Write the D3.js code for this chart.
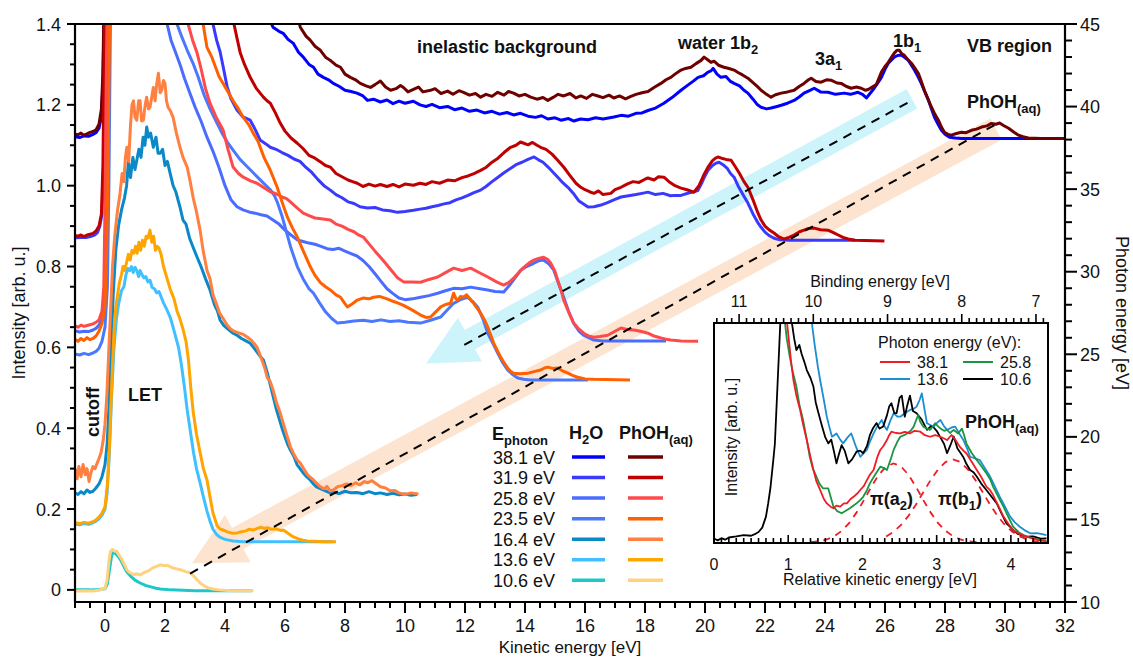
<!DOCTYPE html>
<html><head><meta charset="utf-8">
<script src="https://cdn.jsdelivr.net/npm/d3@7"></script>
<style>body{margin:0;background:#fff}svg{display:block;font-family:'Liberation Sans',Arial,sans-serif}</style>
</head><body><svg id="c" width="1133" height="657"></svg>
<script>
// ---------- DATA (kinetic energy [eV], intensity [arb. u.]) ----------
const photonLabels = ['38.1 eV','31.9 eV','25.8 eV','23.5 eV','16.4 eV','13.6 eV','10.6 eV'];
const h2oColors  = ['#0000ff','#3a3aff','#4a6cff','#4a78ff','#0a88c8','#40c0ff','#1ec8c8'];
const phohColors = ['#6e0000','#c00000','#ff4a4a','#ff6000','#ff8040','#ffa500','#ffd27f'];

const h2o_381 = [[-1.00,1.121],[-0.85,1.119],[-0.70,1.123],[-0.55,1.122],[-0.40,1.127],[-0.30,1.131],[-0.20,1.142],[-0.12,1.17],[-0.07,1.25],[-0.03,1.42],[0.05,2.2],[4.8,1.6],[5.3,1.44],[5.6,1.392],[5.8,1.382],[5.94,1.377],[6.1,1.362],[6.28,1.352],[6.45,1.33],[6.61,1.318],[6.8,1.30],[6.95,1.293],[7.1,1.276],[7.28,1.268],[7.45,1.262],[7.61,1.253],[7.8,1.246],[8.0,1.236],[8.2,1.233],[8.4,1.229],[8.6,1.222],[8.75,1.211],[8.95,1.214],[9.18,1.207],[9.4,1.212],[9.6,1.203],[9.8,1.209],[10.0,1.204],[10.28,1.209],[10.5,1.2],[10.7,1.196],[10.9,1.201],[11.15,1.193],[11.42,1.196],[11.65,1.188],[11.9,1.192],[12.15,1.184],[12.4,1.187],[12.65,1.18],[12.9,1.184],[13.15,1.177],[13.4,1.181],[13.62,1.175],[13.85,1.179],[14.1,1.172],[14.35,1.169],[14.55,1.173],[14.76,1.165],[15.0,1.168],[15.2,1.162],[15.45,1.166],[15.63,1.16],[15.85,1.165],[16.1,1.163],[16.35,1.168],[16.6,1.165],[16.96,1.17],[17.2,1.174],[17.45,1.172],[17.7,1.179],[17.9,1.18],[18.1,1.186],[18.35,1.192],[18.63,1.204],[18.9,1.218],[19.2,1.236],[19.45,1.25],[19.6,1.258],[19.77,1.268],[19.95,1.272],[20.1,1.281],[20.2,1.284],[20.27,1.29],[20.4,1.276],[20.53,1.268],[20.7,1.27],[20.85,1.258],[20.97,1.253],[21.15,1.247],[21.3,1.236],[21.43,1.229],[21.6,1.214],[21.75,1.2],[21.87,1.194],[22.05,1.19],[22.2,1.192],[22.4,1.196],[22.54,1.199],[22.75,1.204],[22.97,1.211],[23.15,1.22],[23.3,1.229],[23.5,1.236],[23.64,1.241],[23.85,1.232],[24.1,1.231],[24.35,1.226],[24.64,1.229],[24.85,1.226],[25.1,1.231],[25.25,1.226],[25.38,1.217],[25.5,1.228],[25.64,1.241],[25.76,1.254],[25.88,1.268],[26.0,1.288],[26.11,1.303],[26.2,1.31],[26.31,1.318],[26.42,1.322],[26.54,1.323],[26.66,1.317],[26.78,1.31],[26.88,1.298],[26.98,1.286],[27.1,1.27],[27.21,1.253],[27.33,1.232],[27.45,1.211],[27.55,1.19],[27.65,1.169],[27.77,1.152],[27.88,1.137],[28.0,1.127],[28.15,1.12],[28.35,1.118],[28.55,1.117],[32,1.117]];
const phoh_381 = [[-1.00,1.127],[-0.9,1.126],[-0.8,1.13],[-0.7,1.125],[-0.6,1.128],[-0.5,1.132],[-0.4,1.134],[-0.3,1.138],[-0.2,1.152],[-0.12,1.19],[-0.07,1.28],[-0.04,1.42],[0.02,2.2],[5.8,1.6],[6.3,1.45],[6.51,1.392],[6.7,1.37],[6.84,1.36],[7.0,1.345],[7.18,1.335],[7.35,1.318],[7.51,1.31],[7.7,1.298],[7.85,1.293],[8.0,1.276],[8.18,1.268],[8.35,1.262],[8.51,1.253],[8.7,1.247],[8.85,1.243],[9.0,1.25],[9.18,1.259],[9.35,1.244],[9.52,1.236],[9.7,1.24],[9.85,1.248],[9.95,1.243],[10.1,1.232],[10.28,1.238],[10.45,1.244],[10.6,1.232],[10.85,1.236],[11.0,1.24],[11.2,1.228],[11.42,1.234],[11.6,1.226],[11.8,1.235],[11.95,1.231],[12.15,1.224],[12.35,1.228],[12.52,1.219],[12.7,1.226],[12.9,1.221],[13.09,1.231],[13.3,1.224],[13.45,1.233],[13.62,1.229],[13.8,1.222],[14.0,1.226],[14.19,1.219],[14.4,1.214],[14.6,1.218],[14.76,1.211],[14.95,1.219],[15.1,1.226],[15.29,1.222],[15.5,1.228],[15.7,1.217],[15.86,1.222],[16.05,1.216],[16.25,1.226],[16.43,1.222],[16.6,1.218],[16.8,1.224],[16.96,1.217],[17.15,1.222],[17.35,1.215],[17.53,1.221],[17.7,1.226],[17.9,1.23],[18.1,1.233],[18.3,1.243],[18.53,1.253],[18.7,1.262],[18.86,1.268],[19.0,1.276],[19.2,1.286],[19.35,1.29],[19.53,1.293],[19.7,1.302],[19.87,1.31],[19.97,1.318],[20.1,1.311],[20.2,1.305],[20.3,1.308],[20.45,1.298],[20.63,1.293],[20.8,1.29],[20.97,1.286],[21.1,1.28],[21.25,1.274],[21.43,1.266],[21.6,1.255],[21.75,1.245],[21.87,1.236],[22.05,1.226],[22.2,1.219],[22.35,1.225],[22.54,1.229],[22.75,1.232],[22.97,1.236],[23.15,1.246],[23.3,1.253],[23.45,1.262],[23.54,1.266],[23.7,1.258],[23.87,1.256],[24.05,1.262],[24.2,1.261],[24.4,1.254],[24.54,1.253],[24.7,1.246],[24.87,1.241],[25.05,1.244],[25.21,1.241],[25.35,1.236],[25.44,1.238],[25.6,1.245],[25.71,1.25],[25.8,1.266],[25.88,1.281],[26.0,1.295],[26.11,1.305],[26.22,1.318],[26.31,1.328],[26.4,1.335],[26.48,1.335],[26.56,1.326],[26.64,1.323],[26.76,1.312],[26.88,1.303],[27.0,1.29],[27.11,1.278],[27.21,1.258],[27.31,1.236],[27.43,1.215],[27.55,1.194],[27.66,1.177],[27.78,1.162],[27.88,1.145],[27.98,1.132],[28.1,1.127],[28.21,1.125],[28.38,1.129],[28.55,1.132],[28.7,1.131],[28.88,1.137],[29.05,1.14],[29.22,1.145],[29.4,1.148],[29.55,1.154],[29.7,1.152],[29.82,1.155],[29.95,1.149],[30.12,1.142],[30.3,1.132],[30.45,1.125],[30.6,1.121],[30.78,1.118],[31.2,1.117],[32,1.117]];
const h2o_319 = [[-1,0.871],[-0.8,0.872],[-0.6,0.872],[-0.45,0.875],[-0.35,0.878],[-0.25,0.884],[-0.17,0.9],[-0.1,0.93],[-0.05,1.05],[0.0,1.3],[0.05,1.6],[0.2,2.2],[3.2,1.6],[3.45,1.46],[3.6,1.40],[3.72,1.36],[3.84,1.33],[3.95,1.29],[4.07,1.245],[4.2,1.215],[4.4,1.187],[4.6,1.17],[4.84,1.162],[5.0,1.14],[5.17,1.113],[5.35,1.104],[5.51,1.095],[5.7,1.09],[5.9,1.082],[6.1,1.075],[6.3,1.066],[6.5,1.06],[6.7,1.045],[6.9,1.032],[7.1,1.015],[7.3,1.0],[7.51,0.989],[7.7,0.978],[7.9,0.97],[8.1,0.96],[8.3,0.956],[8.5,0.948],[8.75,0.945],[9.0,0.946],[9.25,0.94],[9.5,0.938],[9.75,0.934],[10.0,0.936],[10.28,0.939],[10.5,0.942],[10.7,0.944],[10.9,0.948],[11.1,0.951],[11.3,0.955],[11.5,0.958],[11.7,0.965],[11.9,0.97],[12.1,0.976],[12.3,0.983],[12.52,0.989],[12.7,0.998],[12.9,1.01],[13.1,1.021],[13.3,1.032],[13.5,1.042],[13.7,1.052],[13.9,1.058],[14.1,1.065],[14.3,1.071],[14.45,1.064],[14.6,1.058],[14.77,1.046],[14.95,1.032],[15.1,1.02],[15.25,1.008],[15.43,0.996],[15.6,0.982],[15.8,0.962],[16.0,0.952],[16.1,0.947],[16.3,0.948],[16.53,0.952],[16.75,0.958],[17.0,0.966],[17.2,0.972],[17.45,0.975],[17.7,0.978],[17.9,0.981],[18.1,0.984],[18.35,0.978],[18.6,0.981],[18.85,0.975],[19.0,0.976],[19.2,0.976],[19.45,0.982],[19.6,0.984],[19.76,0.988],[19.9,1.008],[20.0,1.024],[20.1,1.038],[20.25,1.05],[20.35,1.055],[20.47,1.058],[20.6,1.052],[20.75,1.042],[20.85,1.03],[20.97,1.021],[21.1,1.0],[21.25,0.98],[21.43,0.957],[21.6,0.93],[21.75,0.91],[21.87,0.897],[22.0,0.885],[22.15,0.876],[22.3,0.87],[22.5,0.866],[22.8,0.865],[25.0,0.865]];
const phoh_319 = [[-1,0.877],[-0.9,0.875],[-0.8,0.878],[-0.7,0.874],[-0.6,0.878],[-0.5,0.88],[-0.4,0.882],[-0.3,0.888],[-0.2,0.9],[-0.12,0.93],[-0.07,1.05],[-0.03,1.3],[0.02,1.6],[0.15,2.2],[3.8,1.6],[4.1,1.47],[4.27,1.41],[4.4,1.365],[4.51,1.328],[4.65,1.3],[4.84,1.268],[5.05,1.24],[5.28,1.219],[5.4,1.21],[5.51,1.204],[5.68,1.18],[5.84,1.155],[6.0,1.135],[6.2,1.118],[6.41,1.105],[6.6,1.092],[6.8,1.075],[7.0,1.068],[7.2,1.058],[7.35,1.05],[7.51,1.046],[7.7,1.03],[7.9,1.022],[8.1,1.014],[8.25,1.01],[8.41,1.006],[8.6,0.998],[8.8,1.004],[9.0,0.999],[9.18,1.003],[9.4,0.998],[9.6,1.003],[9.8,0.997],[10.0,1.004],[10.28,1.001],[10.5,1.006],[10.7,1.003],[10.9,1.01],[11.15,1.006],[11.42,1.014],[11.65,1.012],[11.9,1.02],[12.1,1.024],[12.3,1.03],[12.52,1.038],[12.7,1.045],[12.9,1.058],[13.1,1.068],[13.3,1.082],[13.52,1.095],[13.7,1.1],[13.85,1.108],[13.96,1.105],[14.1,1.101],[14.25,1.107],[14.4,1.1],[14.52,1.095],[14.7,1.09],[14.9,1.078],[15.09,1.063],[15.3,1.045],[15.5,1.025],[15.7,1.006],[15.86,0.996],[16.0,0.99],[16.15,0.985],[16.3,0.981],[16.45,0.987],[16.6,0.978],[16.86,0.981],[17.0,0.99],[17.2,0.996],[17.4,1.004],[17.6,1.01],[17.8,1.008],[18.0,1.016],[18.1,1.019],[18.3,1.014],[18.45,1.022],[18.63,1.021],[18.8,1.01],[19.0,1.0],[19.2,0.994],[19.4,0.99],[19.63,0.984],[19.8,1.0],[19.95,1.025],[20.1,1.046],[20.25,1.062],[20.35,1.068],[20.43,1.071],[20.55,1.068],[20.7,1.065],[20.87,1.063],[21.0,1.048],[21.15,1.03],[21.3,1.01],[21.43,0.996],[21.6,0.965],[21.75,0.935],[21.87,0.915],[22.0,0.9],[22.15,0.89],[22.3,0.883],[22.45,0.874],[22.64,0.868],[22.8,0.872],[22.97,0.878],[23.15,0.886],[23.3,0.89],[23.45,0.894],[23.64,0.895],[23.85,0.891],[24.1,0.89],[24.28,0.884],[24.44,0.878],[24.6,0.872],[24.77,0.868],[25.0,0.865],[25.98,0.863]];
const h2o_258 = [[-1,0.641],[-0.85,0.638],[-0.7,0.64],[-0.55,0.639],[-0.4,0.643],[-0.3,0.647],[-0.2,0.655],[-0.1,0.672],[-0.02,0.72],[0.03,0.9],[0.07,1.2],[0.12,1.6],[0.3,2.2],[1.7,1.6],[1.95,1.45],[2.07,1.40],[2.2,1.36],[2.35,1.33],[2.5,1.30],[2.65,1.265],[2.8,1.235],[3.0,1.195],[3.2,1.16],[3.4,1.12],[3.6,1.085],[3.8,1.045],[4.0,1.0],[4.2,0.965],[4.4,0.948],[4.6,0.94],[4.8,0.935],[5.0,0.932],[5.2,0.928],[5.4,0.925],[5.6,0.915],[5.8,0.905],[6.0,0.89],[6.2,0.878],[6.41,0.866],[6.6,0.862],[6.8,0.858],[7.0,0.855],[7.2,0.85],[7.4,0.844],[7.6,0.842],[7.8,0.845],[8.0,0.838],[8.2,0.832],[8.4,0.826],[8.6,0.815],[8.8,0.8],[9.0,0.782],[9.18,0.765],[9.4,0.745],[9.6,0.733],[9.8,0.722],[10.0,0.718],[10.25,0.72],[10.52,0.724],[10.8,0.728],[11.09,0.734],[11.35,0.74],[11.62,0.746],[11.9,0.745],[12.19,0.749],[12.5,0.745],[12.76,0.742],[13.0,0.738],[13.29,0.737],[13.5,0.755],[13.7,0.775],[13.86,0.791],[14.05,0.8],[14.29,0.808],[14.45,0.814],[14.62,0.816],[14.8,0.806],[14.96,0.791],[15.1,0.762],[15.29,0.724],[15.45,0.69],[15.62,0.66],[15.8,0.64],[15.95,0.63],[16.09,0.625],[16.29,0.618],[16.6,0.616],[18.7,0.616]];
const phoh_258 = [[-1,0.653],[-0.9,0.65],[-0.8,0.655],[-0.7,0.652],[-0.6,0.654],[-0.5,0.656],[-0.4,0.658],[-0.3,0.662],[-0.2,0.668],[-0.1,0.69],[-0.04,0.75],[0.0,0.95],[0.04,1.25],[0.1,1.6],[0.3,2.2],[2.3,1.6],[2.6,1.46],[2.77,1.40],[2.92,1.36],[3.07,1.328],[3.2,1.29],[3.35,1.24],[3.5,1.204],[3.7,1.17],[3.94,1.137],[4.1,1.09],[4.27,1.046],[4.45,1.03],[4.61,1.021],[4.85,1.012],[5.07,1.006],[5.3,0.995],[5.51,0.985],[5.7,0.98],[5.9,0.972],[6.05,0.968],[6.18,0.96],[6.4,0.945],[6.61,0.932],[6.8,0.926],[7.0,0.92],[7.2,0.918],[7.51,0.915],[7.7,0.905],[7.9,0.9],[8.1,0.892],[8.3,0.886],[8.45,0.878],[8.61,0.873],[8.8,0.856],[9.0,0.838],[9.18,0.823],[9.35,0.808],[9.55,0.79],[9.75,0.772],[9.95,0.762],[10.2,0.762],[10.52,0.761],[10.8,0.768],[11.09,0.774],[11.35,0.785],[11.62,0.796],[11.9,0.79],[12.19,0.796],[12.5,0.784],[12.76,0.774],[13.05,0.762],[13.29,0.754],[13.45,0.76],[13.62,0.771],[13.8,0.786],[13.96,0.798],[14.12,0.808],[14.29,0.816],[14.45,0.82],[14.62,0.823],[14.75,0.818],[14.86,0.808],[15.0,0.788],[15.09,0.766],[15.2,0.742],[15.29,0.717],[15.45,0.688],[15.62,0.66],[15.8,0.645],[15.96,0.635],[16.12,0.628],[16.29,0.625],[16.5,0.627],[16.76,0.63],[17.0,0.64],[17.2,0.648],[17.4,0.644],[17.63,0.643],[17.85,0.64],[18.1,0.635],[18.3,0.628],[18.53,0.623],[18.7,0.62],[18.86,0.618],[19.2,0.616],[19.77,0.615]];
const h2o_235 = [[-1,0.584],[-0.85,0.581],[-0.7,0.585],[-0.55,0.582],[-0.4,0.586],[-0.3,0.59],[-0.2,0.598],[-0.1,0.615],[0.0,0.65],[0.08,0.75],[0.13,1.0],[0.18,1.4],[0.25,1.8],[0.5,2.2],[2.0,1.6],[2.25,1.46],[2.4,1.40],[2.55,1.37],[2.74,1.335],[2.95,1.3],[3.1,1.27],[3.3,1.225],[3.5,1.19],[3.7,1.16],[3.9,1.13],[4.1,1.105],[4.3,1.085],[4.5,1.065],[4.7,1.05],[4.9,1.035],[5.1,1.02],[5.3,1.005],[5.51,0.99],[5.65,0.975],[5.74,0.96],[5.9,0.925],[6.05,0.885],[6.2,0.845],[6.41,0.8],[6.6,0.77],[6.8,0.745],[6.95,0.734],[7.15,0.71],[7.35,0.688],[7.55,0.672],[7.75,0.66],[8.0,0.662],[8.3,0.665],[8.61,0.667],[8.9,0.664],[9.2,0.668],[9.5,0.664],[9.8,0.666],[10.1,0.662],[10.52,0.66],[10.85,0.667],[11.19,0.675],[11.4,0.692],[11.62,0.709],[11.85,0.718],[12.09,0.724],[12.25,0.714],[12.42,0.7],[12.6,0.67],[12.76,0.635],[12.93,0.61],[13.09,0.586],[13.25,0.563],[13.42,0.544],[13.6,0.532],[13.76,0.524],[13.95,0.521],[14.19,0.519],[16.1,0.519]];
const phoh_235 = [[-1,0.62],[-0.9,0.615],[-0.8,0.622],[-0.7,0.617],[-0.6,0.624],[-0.5,0.619],[-0.4,0.622],[-0.3,0.628],[-0.2,0.64],[-0.1,0.66],[0.0,0.7],[0.06,0.85],[0.11,1.1],[0.16,1.45],[0.25,1.8],[0.5,2.2],[2.9,1.6],[3.15,1.45],[3.27,1.40],[3.4,1.342],[3.55,1.32],[3.8,1.27],[4.0,1.245],[4.27,1.21],[4.45,1.19],[4.6,1.17],[4.8,1.15],[4.94,1.13],[5.1,1.11],[5.3,1.07],[5.5,1.04],[5.74,0.996],[5.9,0.96],[6.08,0.922],[6.25,0.895],[6.41,0.873],[6.6,0.84],[6.84,0.8],[7.0,0.778],[7.18,0.76],[7.35,0.75],[7.51,0.742],[7.7,0.73],[7.85,0.724],[7.98,0.71],[8.08,0.70],[8.25,0.708],[8.41,0.717],[8.6,0.722],[8.8,0.72],[8.95,0.724],[9.15,0.726],[9.4,0.72],[9.6,0.714],[9.75,0.71],[9.95,0.704],[10.2,0.694],[10.52,0.68],[10.7,0.674],[10.85,0.675],[11.0,0.686],[11.19,0.7],[11.35,0.706],[11.52,0.709],[11.62,0.734],[11.7,0.72],[11.76,0.717],[11.85,0.726],[11.96,0.724],[12.05,0.73],[12.12,0.724],[12.2,0.716],[12.29,0.709],[12.4,0.697],[12.52,0.685],[12.65,0.668],[12.76,0.65],[12.86,0.63],[12.96,0.61],[13.08,0.592],[13.19,0.576],[13.3,0.562],[13.42,0.549],[13.52,0.541],[13.62,0.536],[13.85,0.535],[14.09,0.536],[14.3,0.54],[14.52,0.544],[14.65,0.549],[14.76,0.551],[14.92,0.548],[15.09,0.549],[15.25,0.542],[15.43,0.536],[15.6,0.53],[15.76,0.526],[16.0,0.522],[16.29,0.521],[17.5,0.519]];
const h2o_164 = [[-1,0.24],[-0.9,0.236],[-0.8,0.243],[-0.7,0.238],[-0.6,0.247],[-0.5,0.241],[-0.4,0.244],[-0.3,0.252],[-0.2,0.262],[-0.1,0.28],[0.0,0.31],[0.07,0.36],[0.13,0.45],[0.2,0.6],[0.28,0.74],[0.36,0.84],[0.45,0.9],[0.55,0.94],[0.65,0.97],[0.72,1.0],[0.78,1.06],[0.85,1.02],[0.93,1.07],[1.0,1.04],[1.06,1.063],[1.13,1.09],[1.2,1.07],[1.27,1.12],[1.33,1.1],[1.39,1.145],[1.45,1.12],[1.52,1.13],[1.61,1.095],[1.7,1.12],[1.77,1.08],[1.84,1.08],[1.92,1.09],[2.0,1.05],[2.08,1.06],[2.17,1.031],[2.27,1.0],[2.36,0.985],[2.5,0.947],[2.6,0.915],[2.7,0.905],[2.82,0.87],[2.95,0.845],[3.07,0.823],[3.2,0.8],[3.35,0.77],[3.5,0.742],[3.65,0.705],[3.75,0.69],[3.84,0.667],[3.95,0.655],[4.05,0.648],[4.15,0.642],[4.27,0.635],[4.4,0.63],[4.55,0.622],[4.7,0.616],[4.84,0.61],[4.95,0.6],[5.05,0.59],[5.15,0.58],[5.28,0.569],[5.4,0.54],[5.5,0.51],[5.6,0.48],[5.7,0.45],[5.8,0.425],[5.9,0.4],[6.0,0.378],[6.1,0.358],[6.18,0.346],[6.3,0.33],[6.4,0.31],[6.5,0.3],[6.6,0.29],[6.72,0.28],[6.84,0.272],[6.95,0.262],[7.05,0.255],[7.2,0.25],[7.35,0.245],[7.5,0.24],[7.61,0.242],[7.8,0.238],[8.0,0.244],[8.2,0.24],[8.4,0.241],[8.6,0.238],[8.8,0.243],[9.0,0.238],[9.18,0.24],[9.4,0.236],[9.6,0.239],[9.8,0.235],[10.0,0.237],[10.2,0.234],[10.4,0.236]];
const phoh_164 = [[-1,0.3],[-0.93,0.275],[-0.87,0.305],[-0.8,0.28],[-0.73,0.31],[-0.66,0.285],[-0.6,0.3],[-0.53,0.268],[-0.47,0.29],[-0.4,0.305],[-0.33,0.3],[-0.27,0.312],[-0.2,0.325],[-0.13,0.34],[-0.06,0.37],[0.0,0.41],[0.06,0.48],[0.12,0.58],[0.18,0.68],[0.25,0.8],[0.33,0.88],[0.42,0.94],[0.5,0.98],[0.57,1.03],[0.63,1.01],[0.68,1.07],[0.73,1.095],[0.79,1.06],[0.85,1.15],[0.9,1.2],[0.95,1.21],[1.0,1.17],[1.06,1.162],[1.12,1.21],[1.17,1.21],[1.22,1.16],[1.28,1.162],[1.34,1.2],[1.39,1.219],[1.45,1.19],[1.5,1.194],[1.56,1.22],[1.61,1.243],[1.67,1.21],[1.72,1.25],[1.78,1.278],[1.84,1.23],[1.89,1.236],[1.95,1.26],[2.0,1.253],[2.05,1.21],[2.1,1.194],[2.18,1.185],[2.27,1.169],[2.38,1.13],[2.5,1.095],[2.6,1.07],[2.74,1.046],[2.84,1.01],[2.94,0.97],[3.05,0.935],[3.17,0.89],[3.27,0.84],[3.4,0.79],[3.5,0.77],[3.6,0.73],[3.7,0.71],[3.82,0.685],[3.95,0.67],[4.07,0.655],[4.2,0.645],[4.3,0.64],[4.45,0.636],[4.61,0.632],[4.75,0.625],[4.87,0.618],[5.0,0.607],[5.07,0.6],[5.2,0.575],[5.32,0.55],[5.41,0.525],[5.51,0.515],[5.62,0.49],[5.72,0.462],[5.84,0.438],[5.95,0.41],[6.05,0.385],[6.18,0.354],[6.3,0.335],[6.4,0.322],[6.51,0.314],[6.62,0.3],[6.75,0.285],[6.85,0.278],[6.95,0.272],[7.08,0.262],[7.18,0.255],[7.3,0.25],[7.4,0.256],[7.5,0.245],[7.61,0.247],[7.75,0.255],[7.9,0.258],[8.05,0.262],[8.2,0.258],[8.35,0.265],[8.5,0.26],[8.65,0.268],[8.75,0.265],[8.9,0.27],[9.05,0.262],[9.18,0.255],[9.35,0.252],[9.5,0.245],[9.65,0.246],[9.8,0.24],[10.0,0.236],[10.2,0.24],[10.45,0.237]];
const h2o_136 = [[-1,0.163],[-0.85,0.161],[-0.7,0.164],[-0.55,0.162],[-0.4,0.166],[-0.3,0.17],[-0.2,0.176],[-0.1,0.185],[0.0,0.2],[0.07,0.24],[0.14,0.33],[0.22,0.48],[0.3,0.6],[0.38,0.67],[0.46,0.71],[0.55,0.74],[0.63,0.75],[0.7,0.78],[0.76,0.795],[0.82,0.79],[0.88,0.8],[0.94,0.785],[1.0,0.798],[1.06,0.79],[1.12,0.775],[1.17,0.79],[1.23,0.78],[1.3,0.772],[1.36,0.775],[1.43,0.762],[1.5,0.766],[1.57,0.748],[1.65,0.745],[1.72,0.735],[1.8,0.738],[1.87,0.725],[1.95,0.71],[2.05,0.695],[2.17,0.675],[2.25,0.655],[2.35,0.628],[2.45,0.6],[2.55,0.555],[2.65,0.5],[2.74,0.445],[2.85,0.39],[2.95,0.34],[3.05,0.3],[3.17,0.265],[3.28,0.23],[3.4,0.195],[3.5,0.17],[3.6,0.15],[3.72,0.137],[3.84,0.13],[4.0,0.125],[4.27,0.121],[4.6,0.119],[5.5,0.119],[6.5,0.119],[7.6,0.119]];
const phoh_136 = [[-1,0.166],[-0.85,0.164],[-0.7,0.167],[-0.55,0.165],[-0.4,0.169],[-0.3,0.173],[-0.2,0.18],[-0.1,0.19],[0.0,0.205],[0.08,0.26],[0.15,0.36],[0.23,0.52],[0.3,0.64],[0.36,0.7],[0.42,0.73],[0.48,0.76],[0.55,0.78],[0.6,0.8],[0.65,0.79],[0.72,0.81],[0.78,0.83],[0.84,0.816],[0.9,0.84],[0.96,0.833],[1.02,0.85],[1.07,0.833],[1.13,0.86],[1.19,0.84],[1.25,0.865],[1.31,0.85],[1.37,0.875],[1.43,0.87],[1.5,0.89],[1.56,0.86],[1.62,0.875],[1.68,0.84],[1.74,0.85],[1.8,0.845],[1.87,0.83],[1.95,0.8],[2.07,0.77],[2.17,0.745],[2.3,0.72],[2.4,0.69],[2.5,0.67],[2.6,0.645],[2.7,0.615],[2.78,0.57],[2.86,0.5],[2.94,0.44],[3.05,0.385],[3.17,0.34],[3.28,0.3],[3.4,0.272],[3.5,0.23],[3.6,0.19],[3.74,0.158],[3.85,0.15],[3.95,0.148],[4.1,0.143],[4.25,0.14],[4.41,0.141],[4.55,0.144],[4.7,0.146],[4.8,0.15],[4.94,0.148],[5.08,0.152],[5.2,0.155],[5.3,0.152],[5.41,0.154],[5.55,0.15],[5.7,0.151],[5.85,0.147],[5.94,0.148],[6.1,0.14],[6.28,0.131],[6.45,0.126],[6.6,0.123],[6.74,0.121],[7.0,0.12],[7.3,0.119],[7.7,0.119]];
const h2o_106 = [[-1,0.0],[-0.5,0.0],[-0.2,0.001],[0.0,0.003],[0.08,0.015],[0.15,0.05],[0.22,0.085],[0.28,0.093],[0.35,0.09],[0.45,0.082],[0.55,0.07],[0.65,0.055],[0.73,0.045],[0.85,0.034],[1.0,0.024],[1.17,0.017],[1.35,0.011],[1.5,0.008],[1.7,0.004],[1.84,0.002],[2.2,0.0],[3.0,-0.002],[4.0,-0.002],[4.9,-0.002]];
const phoh_106 = [[-1,-0.003],[-0.7,-0.002],[-0.4,-0.003],[-0.2,-0.001],[0.0,0.004],[0.07,0.025],[0.13,0.07],[0.18,0.095],[0.25,0.1],[0.32,0.096],[0.39,0.095],[0.47,0.086],[0.55,0.077],[0.63,0.065],[0.73,0.05],[0.82,0.043],[0.95,0.038],[1.05,0.04],[1.17,0.037],[1.3,0.043],[1.45,0.047],[1.6,0.055],[1.72,0.058],[1.84,0.062],[1.95,0.06],[2.1,0.06],[2.27,0.054],[2.4,0.052],[2.55,0.049],[2.7,0.045],[2.84,0.042],[2.95,0.035],[3.07,0.025],[3.17,0.017],[3.3,0.01],[3.45,0.005],[3.6,0.002],[3.8,0.0],[4.2,-0.002],[4.6,-0.002],[4.95,-0.002]];

// inset: relative kinetic energy [eV], normalised intensity
const insetLabels = ['38.1','25.8','13.6','10.6'];
const insetColors = ['#ee1c24','#1a9641','#1b8fd2','#000000'];
const in_381 = [[0.97,1.05],[1.0,0.95],[1.04,0.82],[1.07,0.741],[1.11,0.67],[1.16,0.605],[1.2,0.54],[1.25,0.468],[1.3,0.39],[1.34,0.332],[1.38,0.28],[1.43,0.241],[1.48,0.2],[1.52,0.18],[1.57,0.165],[1.61,0.158],[1.65,0.17],[1.7,0.165],[1.75,0.18],[1.79,0.18],[1.84,0.2],[1.88,0.21],[1.93,0.225],[1.97,0.241],[2.02,0.26],[2.06,0.286],[2.1,0.31],[2.15,0.332],[2.2,0.39],[2.24,0.423],[2.28,0.44],[2.33,0.468],[2.36,0.49],[2.39,0.506],[2.45,0.5],[2.51,0.498],[2.57,0.505],[2.64,0.498],[2.7,0.51],[2.78,0.506],[2.84,0.49],[2.91,0.483],[2.98,0.49],[3.05,0.483],[3.1,0.475],[3.14,0.468],[3.2,0.491],[3.25,0.47],[3.31,0.438],[3.36,0.42],[3.4,0.408],[3.47,0.37],[3.54,0.332],[3.6,0.3],[3.67,0.256],[3.72,0.24],[3.76,0.218],[3.83,0.17],[3.9,0.12],[3.97,0.085],[4.03,0.059],[4.12,0.04],[4.21,0.029],[4.35,0.015],[4.48,0.006]];
const in_258 = [[0.94,1.05],[0.98,0.93],[1.02,0.847],[1.06,0.78],[1.11,0.711],[1.15,0.63],[1.2,0.559],[1.25,0.47],[1.29,0.392],[1.33,0.34],[1.38,0.302],[1.42,0.27],[1.47,0.248],[1.54,0.248],[1.58,0.2],[1.61,0.165],[1.66,0.145],[1.72,0.135],[1.77,0.145],[1.83,0.158],[1.88,0.17],[1.92,0.18],[1.97,0.195],[2.01,0.21],[2.06,0.24],[2.1,0.271],[2.17,0.31],[2.24,0.347],[2.29,0.34],[2.33,0.332],[2.38,0.38],[2.42,0.423],[2.47,0.46],[2.51,0.483],[2.56,0.49],[2.6,0.498],[2.65,0.51],[2.69,0.529],[2.75,0.582],[2.78,0.55],[2.82,0.529],[2.87,0.52],[2.91,0.514],[2.95,0.53],[2.98,0.544],[3.02,0.53],[3.05,0.521],[3.1,0.51],[3.14,0.514],[3.18,0.5],[3.23,0.514],[3.29,0.498],[3.34,0.52],[3.37,0.49],[3.4,0.453],[3.47,0.41],[3.54,0.377],[3.6,0.35],[3.67,0.317],[3.72,0.29],[3.76,0.256],[3.83,0.21],[3.9,0.165],[3.97,0.115],[4.03,0.074],[4.12,0.045],[4.21,0.029],[4.35,0.018],[4.48,0.011]];
const in_136 = [[1.3,1.05],[1.33,0.97],[1.36,0.892],[1.4,0.8],[1.43,0.741],[1.48,0.65],[1.52,0.574],[1.56,0.52],[1.59,0.483],[1.62,0.49],[1.65,0.498],[1.7,0.47],[1.74,0.453],[1.8,0.48],[1.85,0.498],[1.91,0.44],[1.97,0.392],[2.02,0.41],[2.06,0.423],[2.1,0.46],[2.15,0.498],[2.2,0.53],[2.26,0.559],[2.3,0.53],[2.33,0.514],[2.38,0.56],[2.42,0.589],[2.47,0.575],[2.51,0.574],[2.57,0.59],[2.64,0.605],[2.69,0.61],[2.73,0.62],[2.77,0.65],[2.8,0.68],[2.84,0.6],[2.87,0.544],[2.92,0.535],[2.96,0.529],[3.0,0.545],[3.05,0.559],[3.1,0.53],[3.14,0.514],[3.2,0.525],[3.25,0.529],[3.3,0.5],[3.36,0.468],[3.41,0.43],[3.45,0.392],[3.52,0.385],[3.58,0.377],[3.65,0.34],[3.72,0.302],[3.78,0.26],[3.85,0.211],[3.92,0.165],[3.99,0.12],[4.05,0.095],[4.12,0.074],[4.2,0.055],[4.26,0.044],[4.35,0.045],[4.42,0.04],[4.48,0.036]];
const in_106 = [[0,0.02],[0.05,0.012],[0.1,0.022],[0.15,0.015],[0.2,0.025],[0.3,0.03],[0.4,0.036],[0.5,0.033],[0.55,0.04],[0.6,0.05],[0.65,0.07],[0.7,0.12],[0.73,0.18],[0.76,0.25],[0.8,0.38],[0.82,0.45],[0.84,0.6],[0.86,0.75],[0.88,0.9],[0.9,1.05],[0.95,1.3],[1.0,1.2],[1.05,1.0],[1.08,0.93],[1.11,0.877],[1.15,0.9],[1.18,0.86],[1.22,0.82],[1.25,0.786],[1.3,0.75],[1.34,0.71],[1.37,0.64],[1.4,0.6],[1.44,0.55],[1.47,0.514],[1.5,0.48],[1.54,0.453],[1.58,0.47],[1.62,0.41],[1.65,0.362],[1.68,0.4],[1.72,0.445],[1.76,0.42],[1.81,0.362],[1.86,0.38],[1.92,0.415],[1.97,0.42],[2.01,0.408],[2.06,0.44],[2.1,0.49],[2.14,0.52],[2.19,0.545],[2.23,0.52],[2.28,0.53],[2.33,0.58],[2.36,0.62],[2.39,0.635],[2.43,0.59],[2.46,0.59],[2.5,0.66],[2.53,0.67],[2.57,0.574],[2.6,0.62],[2.64,0.67],[2.68,0.6],[2.73,0.59],[2.8,0.56],[2.87,0.514],[2.92,0.53],[2.96,0.525],[3.0,0.51],[3.05,0.48],[3.1,0.45],[3.14,0.408],[3.18,0.44],[3.23,0.484],[3.28,0.43],[3.32,0.41],[3.36,0.39],[3.4,0.36],[3.45,0.332],[3.5,0.32],[3.54,0.302],[3.6,0.27],[3.67,0.241],[3.74,0.21],[3.81,0.18],[3.88,0.13],[3.94,0.089],[4.0,0.07],[4.03,0.059],[4.1,0.04],[4.21,0.029],[4.3,0.03],[4.4,0.02],[4.48,0.021]];
const fit_a2 = [[1.3,0.004],[1.42,0.008],[1.52,0.016],[1.62,0.031],[1.72,0.055],[1.82,0.09],[1.92,0.138],[2.02,0.195],[2.12,0.256],[2.22,0.31],[2.32,0.348],[2.42,0.362],[2.52,0.348],[2.62,0.31],[2.72,0.256],[2.82,0.195],[2.92,0.138],[3.02,0.09],[3.12,0.055],[3.22,0.031],[3.32,0.016],[3.42,0.008],[3.62,0.002]];
const fit_b1 = [[2.32,0.03],[2.42,0.051],[2.52,0.082],[2.62,0.123],[2.72,0.174],[2.82,0.231],[2.92,0.287],[3.02,0.335],[3.12,0.368],[3.22,0.38],[3.32,0.368],[3.42,0.335],[3.52,0.287],[3.62,0.231],[3.72,0.174],[3.82,0.123],[3.92,0.082],[4.02,0.051],[4.12,0.03],[4.22,0.017],[4.32,0.009],[4.42,0.004],[4.5,0.002]];

// guide arrows: [start KE, start I], [tip KE, tip I]
const cyanArrow  = [[26.9,1.215],[10.7,0.56]];
const peachArrow = [[29.7,1.14],[2.9,0.066]];
const cyanDash   = [[26.75,1.205],[11.85,0.601]];
const peachDash  = [[29.65,1.15],[2.83,0.04]];

// ---------- CHART ----------
const svg = d3.select('#c');
const L=75, R=1065, T=24, B=602;
const x = d3.scaleLinear().domain([-1,32]).range([L,R]);
const y = d3.scaleLinear().domain([-0.03,1.4]).range([B,T]);
const yR = d3.scaleLinear().domain([10,45]).range([B,T]);

svg.append('defs').append('clipPath').attr('id','clipMain')
  .append('rect').attr('x',L).attr('y',T).attr('width',R-L).attr('height',B-T);

const line = d3.line().x(d=>x(d[0])).y(d=>y(d[1]));

function arrowPoly(s, t, hw, hl, hh){
  const sx=x(s[0]), sy=y(s[1]), tx=x(t[0]), ty=y(t[1]);
  const dx=tx-sx, dy=ty-sy, len=Math.hypot(dx,dy);
  const ux=dx/len, uy=dy/len, nx=-uy, ny=ux;
  const bx=tx-ux*hl, by=ty-uy*hl;
  return [[sx+nx*hw,sy+ny*hw],[bx+nx*hw,by+ny*hw],[bx+nx*hh,by+ny*hh],[tx,ty],
          [bx-nx*hh,by-ny*hh],[bx-nx*hw,by-ny*hw],[sx-nx*hw,sy-ny*hw]];
}
const gBands = svg.append('g').attr('clip-path','url(#clipMain)');
gBands.append('polygon').attr('points',arrowPoly(cyanArrow[0],cyanArrow[1],11,50,25).join(' ')).attr('fill','#cdf4fb');
gBands.append('polygon').attr('points',arrowPoly(peachArrow[0],peachArrow[1],12,52,27).join(' ')).attr('fill','#fde4d0');

const h2oSeries  = [h2o_381,h2o_319,h2o_258,h2o_235,h2o_164,h2o_136,h2o_106];
const phohSeries = [phoh_381,phoh_319,phoh_258,phoh_235,phoh_164,phoh_136,phoh_106];
const gSpec = svg.append('g').attr('clip-path','url(#clipMain)');
h2oSeries.forEach((s,i)=>gSpec.append('path').attr('d',line(s)).attr('fill','none')
  .attr('stroke',h2oColors[i]).attr('stroke-width',3).attr('stroke-linejoin','round'));
phohSeries.forEach((s,i)=>gSpec.append('path').attr('d',line(s)).attr('fill','none')
  .attr('stroke',phohColors[i]).attr('stroke-width',3).attr('stroke-linejoin','round'));

[cyanDash,peachDash].forEach(d=>gSpec.append('path').attr('d',line(d)).attr('fill','none')
  .attr('stroke','#000').attr('stroke-width',2).attr('stroke-dasharray','9,7'));

const ax = svg.append('g').attr('stroke','#000');
ax.append('line').attr('x1',L).attr('x2',R).attr('y1',T).attr('y2',T).attr('stroke-width',2);
ax.append('line').attr('x1',L).attr('x2',R).attr('y1',B).attr('y2',B).attr('stroke-width',2.2);
ax.append('line').attr('x1',L).attr('x2',L).attr('y1',T).attr('y2',B).attr('stroke-width',2.2);
ax.append('line').attr('x1',R).attr('x2',R).attr('y1',T).attr('y2',B).attr('stroke-width',2.2);

const fs = 18;
const xMinor = d3.range(-1,32.01,0.5), xMajor = d3.range(0,32.01,2);
xMinor.forEach(v=>ax.append('line').attr('x1',x(v)).attr('x2',x(v)).attr('y1',B).attr('y2',B+(xMajor.includes(v)?11:6)).attr('stroke-width',2));
const tx = svg.append('g').attr('font-size',fs).attr('fill','#111');
xMajor.forEach(v=>tx.append('text').attr('x',x(v)).attr('y',632).attr('text-anchor','middle').text(v));
const yMinor = d3.range(0,1.401,0.05), yMajor = d3.range(0,1.401,0.2);
yMinor.forEach(v=>{const maj=yMajor.some(m=>Math.abs(m-v)<1e-6);
  ax.append('line').attr('x1',L).attr('x2',L-(maj?8:5)).attr('y1',y(v)).attr('y2',y(v)).attr('stroke-width',2);});
yMajor.forEach(v=>tx.append('text').attr('x',61).attr('y',y(v)+6.5).attr('text-anchor','end').text(v===0?'0':v.toFixed(1)));
const rMinor = d3.range(10,45.01,1), rMajor = d3.range(10,45.01,5);
rMinor.forEach(v=>ax.append('line').attr('x1',R).attr('x2',R+(rMajor.includes(v)?12:7)).attr('y1',yR(v)).attr('y2',yR(v)).attr('stroke-width',2));
rMajor.forEach(v=>tx.append('text').attr('x',1080).attr('y',yR(v)+6.5).text(v));

tx.append('text').attr('x',(L+R)/2).attr('y',653).attr('text-anchor','middle').attr('font-size',17).text('Kinetic energy [eV]');
tx.append('text').attr('transform','translate(25,313) rotate(-90)').attr('text-anchor','middle').text('Intensity [arb. u.]');
tx.append('text').attr('transform','translate(1116,313) rotate(90)').attr('text-anchor','middle').text('Photon energy [eV]');

function rich(g, xx, yy, parts, size, weight, subSize){
  const t = g.append('text').attr('x',xx).attr('y',yy).attr('font-size',size).attr('font-weight',weight||'normal').attr('fill','#111');
  let shifted=false;
  parts.forEach(p=>{
    const s = t.append('tspan').text(p[0]);
    if(p[1]&&!shifted){s.attr('dy',5).attr('font-size',subSize||size*0.72); shifted=true;}
    else if(!p[1]&&shifted){s.attr('dy',-5); shifted=false;}
  });
  return t;
}
const ann = svg.append('g');
rich(ann,417,53,[['inelastic background']],18,'bold');
rich(ann,678,49,[['water 1b'],['2',1]],18,'bold');
rich(ann,815,65,[['3a'],['1',1]],18,'bold');
rich(ann,893,47,[['1b'],['1',1]],18,'bold');
rich(ann,967,52,[['VB region']],18,'bold');
rich(ann,967,108,[['PhOH'],['(aq)',1]],18,'bold');
ann.append('text').attr('transform','translate(99,412) rotate(-90)').attr('text-anchor','middle')
  .attr('font-size',18).attr('font-weight','bold').attr('fill','#111').text('cutoff');
rich(ann,128,401,[['LET']],18,'bold');

rich(ann,492,440,[['E'],['photon',1]],18,'bold',13);
rich(ann,569,439,[['H'],['2',1],['O']],18,'bold',13);
rich(ann,619,439,[['PhOH'],['(aq)',1]],18,'bold',13);
photonLabels.forEach((lab,i)=>{
  const yy = 457 + 20.55*i;
  ann.append('text').attr('x',493).attr('y',yy+6.5).attr('font-size',18).attr('fill','#111').text(lab);
  ann.append('line').attr('x1',572).attr('x2',605).attr('y1',yy).attr('y2',yy).attr('stroke',h2oColors[i]).attr('stroke-width',3.5);
  ann.append('line').attr('x1',628).attr('x2',663).attr('y1',yy).attr('y2',yy).attr('stroke',phohColors[i]).attr('stroke-width',3.5);
});

// ---------- INSET ----------
const IL=714, IR=1048, IT=323, IB=543;
const xi = d3.scaleLinear().domain([0,4.5]).range([IL,IR]);
const xBE = d3.scaleLinear().domain([11.338,6.838]).range([IL,IR]);
const yi = d3.scaleLinear().domain([0,1]).range([IB,IT]);
const gi = svg.append('g');
gi.append('rect').attr('x',IL).attr('y',IT).attr('width',IR-IL).attr('height',IB-IT).attr('fill','#fff');
svg.select('defs').append('clipPath').attr('id','clipIn').append('rect').attr('x',IL).attr('y',IT).attr('width',IR-IL).attr('height',IB-IT);
const li = d3.line().x(d=>xi(d[0])).y(d=>yi(d[1]));
const gic = gi.append('g').attr('clip-path','url(#clipIn)');
[fit_a2,fit_b1].forEach(f=>gic.append('path').attr('d',li(f)).attr('fill','none').attr('stroke','#ee1c24').attr('stroke-width',1.8).attr('stroke-dasharray','7,6'));
const insetSeries=[in_381,in_258,in_136,in_106];
[2,3,1,0].forEach(i=>gic.append('path').attr('d',li(insetSeries[i])).attr('fill','none').attr('stroke',insetColors[i]).attr('stroke-width',1.8).attr('stroke-linejoin','round'));
gi.append('rect').attr('x',IL).attr('y',IT).attr('width',IR-IL).attr('height',IB-IT).attr('fill','none').attr('stroke','#000').attr('stroke-width',2);
d3.range(0,4.501,0.1).forEach(v=>{const maj=Math.abs(v-Math.round(v))<1e-6;
  gi.append('line').attr('x1',xi(v)).attr('x2',xi(v)).attr('y1',IB).attr('y2',IB-(maj?8:5)).attr('stroke','#000').attr('stroke-width',1.6);});
[0,1,2,3,4].forEach(v=>gi.append('text').attr('x',xi(v)).attr('y',570).attr('text-anchor','middle').attr('font-size',16).attr('fill','#111').text(v));
d3.range(6.9,11.301,0.1).forEach(v=>{const maj=Math.abs(v-Math.round(v))<1e-6;
  gi.append('line').attr('x1',xBE(v)).attr('x2',xBE(v)).attr('y1',IT).attr('y2',IT-(maj?9:5)).attr('stroke','#000').attr('stroke-width',1.6);});
[11,10,9,8,7].forEach(v=>gi.append('text').attr('x',xBE(v)).attr('y',307).attr('text-anchor','middle').attr('font-size',16).attr('fill','#111').text(v));
gi.append('text').attr('x',880).attr('y',287).attr('text-anchor','middle').attr('font-size',16).attr('fill','#111').text('Binding energy [eV]');
gi.append('text').attr('x',880).attr('y',585).attr('text-anchor','middle').attr('font-size',16).attr('fill','#111').text('Relative kinetic energy [eV]');
gi.append('text').attr('transform','translate(737,437) rotate(-90)').attr('text-anchor','middle').attr('font-size',16).attr('fill','#111').text('Intensity [arb. u.]');
gi.append('text').attr('x',878).attr('y',348).attr('font-size',16).attr('fill','#111').text('Photon energy (eV):');
const legPos=[[880,362],[963,362],[880,379],[963,379]];
insetLabels.forEach((lab,i)=>{
  const p=legPos[i];
  gi.append('line').attr('x1',p[0]).attr('x2',p[0]+30).attr('y1',p[1]).attr('y2',p[1]).attr('stroke',insetColors[i]).attr('stroke-width',2);
  gi.append('text').attr('x',p[0]+37).attr('y',p[1]+5.5).attr('font-size',16).attr('fill','#111').text(lab);
});
rich(gi,965,428,[['PhOH'],['(aq)',1]],18,'bold',13);
rich(gi,870,505,[['π(a'],['2',1],[')']],18,'bold',13);
rich(gi,938,505,[['π(b'],['1',1],[')']],18,'bold',13);
</script></body></html>
